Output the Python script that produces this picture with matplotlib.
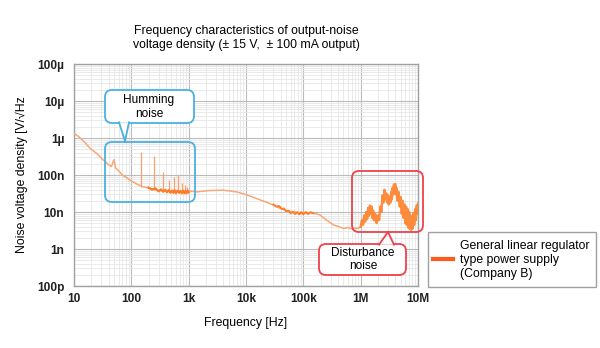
import matplotlib
matplotlib.use("Agg")
import matplotlib.pyplot as plt
from matplotlib.patches import FancyBboxPatch, Polygon
from matplotlib.lines import Line2D
from matplotlib.transforms import IdentityTransform
from matplotlib.ticker import LogLocator, FixedLocator, NullFormatter

plt.rcParams['font.family'] = ['Liberation Sans', 'DejaVu Sans']

# ---------------- data ----------------
# smooth part of the noise density curve (Hz, V/sqrt(Hz))
base_f = [10, 12, 15, 19, 25, 32, 40, 45, 50, 53, 60, 70, 95, 130, 162, 200,
          277, 350, 470, 700, 980, 1050, 1380, 2350, 4030, 6880, 10300, 15400,
          26000, 39000, 58000, 100000, 148000, 195000, 257000, 333000, 420000,
          500000, 600000, 695000, 800000, 910000, 1000000]
base_v = [1.34e-6, 1.1e-6, 0.8e-6, 5.3e-7, 3.8e-7, 2.6e-7, 1.9e-7, 1.7e-7,
          2.6e-7, 1.55e-7, 1.3e-7, 1.0e-7, 7.3e-8, 5.5e-8, 4.8e-8, 4.4e-8,
          3.9e-8, 3.8e-8, 3.7e-8, 3.6e-8, 3.5e-8, 3.7e-8, 3.5e-8, 3.8e-8,
          3.9e-8, 3.5e-8, 2.9e-8, 2.3e-8, 1.7e-8, 1.26e-8, 1.02e-8, 9.6e-9,
          9.6e-9, 8.3e-9, 6.0e-9, 4.5e-9, 4.0e-9, 3.6e-9, 3.8e-9, 3.5e-9,
          3.7e-9, 3.6e-9, 4.0e-9]

# noisy (dense) sections of the curve
hum_f = [200, 230, 260, 300, 330, 360, 390, 420, 450, 480, 510, 540, 570, 600,
         640, 680, 720, 760, 800, 840, 880, 920, 960, 1000]
hum_v = [4.6e-8, 4.0e-8, 4.4e-8, 3.6e-8, 4.1e-8, 3.5e-8, 4.0e-8, 3.4e-8,
         3.9e-8, 3.3e-8, 3.8e-8, 3.3e-8, 3.9e-8, 3.2e-8, 3.8e-8, 3.3e-8,
         3.7e-8, 3.2e-8, 3.8e-8, 3.2e-8, 3.7e-8, 3.2e-8, 3.8e-8, 3.4e-8]
mid_f = [30000, 34000, 38000, 42000, 46000, 50000, 55000, 60000, 66000, 72000,
         78000, 85000, 92000, 100000, 110000, 120000, 135000, 150000]
mid_v = [1.6e-8, 1.4e-8, 1.45e-8, 1.2e-8, 1.25e-8, 1.05e-8, 1.1e-8, 9.3e-9,
         1.0e-8, 8.8e-9, 9.8e-9, 8.6e-9, 9.9e-9, 8.7e-9, 1.0e-8, 8.8e-9,
         9.9e-9, 9.2e-9]

# disturbance region 1 MHz - 10 MHz
dist_f = [1.0e6, 1.05e6, 1.1e6, 1.15e6, 1.2e6, 1.25e6, 1.3e6, 1.35e6, 1.4e6,
          1.45e6, 1.5e6, 1.55e6, 1.6e6, 1.65e6, 1.7e6, 1.8e6, 1.9e6, 2.0e6,
          2.1e6, 2.2e6, 2.3e6, 2.4e6, 2.5e6, 2.6e6, 2.7e6, 2.8e6, 2.9e6, 3.0e6,
          3.1e6, 3.2e6, 3.3e6, 3.4e6, 3.5e6, 3.6e6, 3.7e6, 3.8e6, 3.9e6, 4.0e6,
          4.1e6, 4.2e6, 4.4e6, 4.6e6, 4.8e6, 5.0e6, 5.2e6, 5.4e6, 5.6e6, 5.8e6,
          6.0e6, 6.2e6, 6.4e6, 6.6e6, 6.8e6, 7.0e6, 7.2e6, 7.4e6, 7.6e6, 7.8e6,
          8.0e6, 8.3e6, 8.6e6, 8.9e6, 9.2e6, 9.5e6, 9.8e6, 1.0e7]
dist_v = [4.0e-9, 6e-9, 4.5e-9, 8e-9, 5.5e-9, 10e-9, 6.5e-9, 13e-9, 8e-9,
          15e-9, 9e-9, 14e-9, 7e-9, 11e-9, 6e-9, 9e-9, 5e-9, 8e-9,
          6e-9, 14e-9, 10e-9, 28e-9, 18e-9, 40e-9, 22e-9, 32e-9, 18e-9, 28e-9,
          16e-9, 24e-9, 18e-9, 35e-9, 22e-9, 45e-9, 30e-9, 55e-9, 35e-9, 57e-9,
          30e-9, 45e-9, 20e-9, 35e-9, 14e-9, 25e-9, 9e-9, 20e-9, 7e-9, 16e-9,
          5e-9, 14e-9, 4.5e-9, 12e-9, 3.8e-9, 10e-9, 3.5e-9, 8e-9, 3.3e-9, 7e-9,
          3.5e-9, 9e-9, 4.5e-9, 12e-9, 6e-9, 15e-9, 9e-9, 17e-9]

# hum spikes (harmonics of 50 Hz)
spike_f = [150, 250, 350, 450, 550, 650, 750, 850, 950]
spike_base = [4.7e-8, 4.0e-8, 3.8e-8, 3.7e-8, 3.6e-8, 3.6e-8, 3.5e-8, 3.5e-8, 3.5e-8]
spike_top = [4.3e-7, 3.3e-7, 1.23e-7, 7.3e-8, 9.0e-8, 1.0e-7, 6.0e-8, 5.4e-8, 4.8e-8]

x_ticks = [10, 100, 1e3, 1e4, 1e5, 1e6, 1e7]
x_labels = ['10', '100', '1k', '10k', '100k', '1M', '10M']
y_ticks = [1e-10, 1e-9, 1e-8, 1e-7, 1e-6, 1e-5, 1e-4]
y_labels = ['100p', '1n', '10n', '100n', '1\u00b5', '10\u00b5', '100\u00b5']

title = 'Frequency characteristics of output-noise\nvoltage density (\u00b1 15 V,  \u00b1 100 mA output)'
legend_label = 'General linear regulator\ntype power supply\n(Company B)'

# ---------------- figure ----------------
W, H = 600, 348
fig = plt.figure(figsize=(6, 3.48), dpi=100)
ax = fig.add_axes([74 / W, 1 - 286 / H, (418 - 74) / W, (286 - 64) / H])
ax.set_xscale('log')
ax.set_yscale('log')
ax.set_xlim(10, 1e7)
ax.set_ylim(1e-10, 1e-4)

ax.xaxis.set_major_locator(FixedLocator(x_ticks))
ax.set_xticklabels(x_labels)
ax.yaxis.set_major_locator(FixedLocator(y_ticks))
ax.set_yticklabels(y_labels)
ax.xaxis.set_minor_locator(LogLocator(base=10, subs=range(2, 10), numticks=20))
ax.yaxis.set_minor_locator(LogLocator(base=10, subs=range(2, 10), numticks=20))
ax.xaxis.set_minor_formatter(NullFormatter())
ax.yaxis.set_minor_formatter(NullFormatter())
ax.tick_params(which='both', length=0)
ax.tick_params(axis='y', pad=7, labelsize=8.6)
ax.tick_params(axis='x', pad=5, labelsize=8.6)
for lab in ax.get_xticklabels() + ax.get_yticklabels():
    lab.set_fontweight('bold')
    lab.set_color('#222222')

ax.grid(True, which='major', color='#BBBBBB', lw=0.8)
ax.grid(True, which='minor', color='#E6E6E6', lw=0.6)
ax.set_axisbelow(True)
for s in ax.spines.values():
    s.set_color('#A0A0A0')
    s.set_linewidth(1.0)

light = '#F7A878'
dark = '#FF7A22'
ax.plot(base_f, base_v, color=light, lw=1.1, zorder=3)
ax.vlines(spike_f, spike_base, spike_top, color='#F9A070', lw=0.9, zorder=3)
ax.plot(hum_f, hum_v, color=dark, lw=1.5, zorder=4)
ax.plot(mid_f, mid_v, color=dark, lw=1.3, zorder=4)
ax.plot(dist_f, dist_v, color='#FF8028', lw=1.7, alpha=0.9, zorder=4)

ax.set_xlabel('Frequency [Hz]', fontsize=8.8, labelpad=9)
ax.set_ylabel('Noise voltage density [V/\u221aHz', fontsize=8.8, labelpad=6)
fig.text(246 / W, 1 - 38 / H, title, ha='center', va='center', fontsize=8.8,
         linespacing=1.25)

# ---------------- callouts (pixel coordinates) ----------------
ident = IdentityTransform()


def P(x, y):
    return (x, H - y)


def rbox(x0, y0, x1, y1, ec, fc='white', fill=True):
    b = FancyBboxPatch(P(x0, y1), x1 - x0, y1 - y0,
                       boxstyle='round,pad=0,rounding_size=7',
                       transform=ident, ec=ec, fc=fc if fill else 'none',
                       lw=1.3, zorder=10)
    fig.add_artist(b)


def tail(base_l, base_r, tip, ec):
    poly = Polygon([P(*base_l), P(*tip), P(*base_r)], closed=True,
                   transform=ident, fc='white', ec='none', zorder=11)
    fig.add_artist(poly)
    for b in (base_l, base_r):
        ln = Line2D([P(*b)[0], P(*tip)[0]], [P(*b)[1], P(*tip)[1]],
                    transform=ident, color=ec, lw=1.3, zorder=12)
        fig.add_artist(ln)


blue = '#4AB0E2'
red = '#F0414B'
rbox(105, 90, 194, 123, blue)
tail((119, 122.3), (129, 122.3), (125, 141), blue)
fig.text(149 / W, 1 - 107 / H, 'Humming\nnoise', ha='center', va='center',
         fontsize=8.6, linespacing=1.2, zorder=13)
rbox(105, 142, 195, 202, blue, fill=False)

rbox(352, 171, 423, 232, red, fill=False)
rbox(319, 244, 406, 275, red)
tail((379, 244.7), (394, 244.7), (388, 232), red)
fig.text(363 / W, 1 - 259.5 / H, 'Disturbance\nnoise', ha='center', va='center',
         fontsize=8.6, linespacing=1.2, zorder=13)

# ---------------- legend ----------------
lg = FancyBboxPatch(P(428, 287), 168, 55, boxstyle='square,pad=0',
                    transform=ident, ec='#A0A0A0', fc='white', lw=1.0, zorder=10)
fig.add_artist(lg)
fig.add_artist(Line2D([433, 453], [H - 259, H - 259], transform=ident,
                      color='#FF5A1E', lw=3, zorder=11))
fig.text(460 / W, 1 - 260 / H, legend_label, ha='left', va='center',
         fontsize=8.8, linespacing=1.25, zorder=13)

fig.savefig('out.png', dpi=100)
